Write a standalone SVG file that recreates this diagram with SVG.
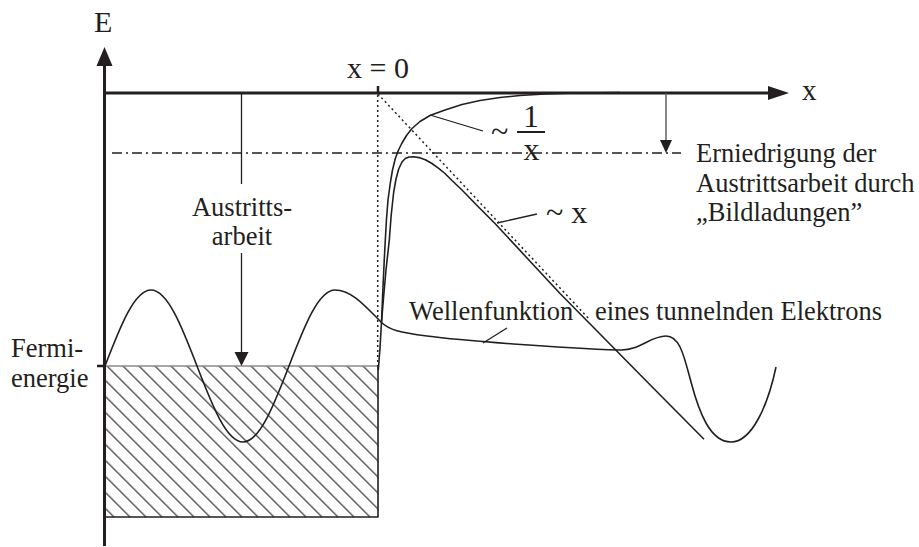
<svg xmlns="http://www.w3.org/2000/svg" width="919" height="547" viewBox="0 0 919 547">
  <defs>
    <pattern id="hatch" patternUnits="userSpaceOnUse" width="11.314" height="11.314" patternTransform="rotate(-45)">
      <line x1="9.19" y1="-1" x2="9.19" y2="12.5" stroke="#231f20" stroke-width="1.1"/>
    </pattern>
  </defs>
  <style>
    .t { font-family: "Liberation Serif", "Times New Roman", serif; fill: #231f20; }
    .lbl { font-size: 26.5px; }
    .math { font-size: 32px; }
    .axis { stroke: #231f20; stroke-width: 3; fill: none; }
    .thin { stroke: #231f20; stroke-width: 1.3; fill: none; }
    .curve { stroke: #231f20; stroke-width: 1.6; fill: none; stroke-linejoin: round; }
    .dot { stroke: #231f20; stroke-width: 1.5; fill: none; stroke-dasharray: 2 3; }
    .dashdot { stroke: #231f20; stroke-width: 1.3; fill: none; stroke-dasharray: 10 4 2 4; }
    .head { fill: #231f20; }
  </style>
  <rect x="0" y="0" width="919" height="547" fill="#ffffff"/>

  <g id="fermi-sea">
    <rect x="104" y="366" width="274" height="151" fill="url(#hatch)"/>
    <line x1="104" y1="366" x2="378" y2="366" stroke="#8a8a8a" stroke-width="1.5"/>
    <polyline points="378,366 378,517 104,517" class="curve"/>
  </g>

  <g id="axes">
    <line x1="104.5" y1="546" x2="104.5" y2="64" class="axis"/>
    <polygon points="104.5,47 96.5,66 112.5,66" class="head"/>
    <line x1="103" y1="93" x2="772" y2="93" class="axis"/>
    <polygon points="789,93 768,86 768,100" class="head"/>
    <line x1="378" y1="86" x2="378" y2="93" stroke="#231f20" stroke-width="2.5"/>
    <line x1="97" y1="366" x2="104" y2="366" stroke="#231f20" stroke-width="2.5"/>
    <text class="t" x="94" y="32" font-size="30">E</text>
    <text class="t" x="378" y="78" font-size="30" text-anchor="middle">x = 0</text>
    <text class="t" x="802" y="100" font-size="29">x</text>
  </g>

  <g id="guides">
    <line x1="377.7" y1="95" x2="377.7" y2="366" class="dot"/>
    <line x1="378" y1="94" x2="590" y2="320" class="dot"/>
    <line x1="112" y1="153" x2="681" y2="153" class="dashdot"/>
  </g>

  <g id="potential-curves">
    <path class="curve" d="M378.3,370 L380,348 L381.5,322 L383,287 L384.3,259 L385.3,240 L386.5,219 L388,200 L390.3,183 L392.5,170 L395.3,158.5 L398.5,150 L402,143 L406.5,135.5 L412,128.5 L420,121.5 L430,115.5 L445,110 L462,104.5 L480,100.5 L500,97.5 L520,95.5 L545,94 L575,93 L620,92.5"/>
    <path class="curve" d="M381.5,322 L383.5,298 L386,270 L389.3,240 L391.2,215 L393.7,192 L396,179 L398.7,169 L402,162 L405.3,158.5 L409,157 L413.7,156.7 L419,157.6 L425.3,159.8 L432,163.5 L438.7,168.3 L445,173.5 L452,180.5 L462,190 L478,206.5 L495,223.5 L527,258 L560,293.5 L600,334 L650,384.7 L704,439.3"/>
  </g>

  <g id="wavefunction">
    <path class="curve" d="M105,366 C120,327.1 134.35,290 151,290 C167.65,290 182,327.1 197,366 C212,404.9 226.35,442 243,442 C259.65,442 274,404.9 289,366 C304,327.1 318.35,290 335,290 C352,290 366,307 381,322 C389,330 400,332.5 427,336 C460,340.5 560,348 620,350 C640,350.7 650,336 666,336 C680,336 684,356 691,382 C699,412 710,442 731,442 C752,442 768,405 776,367"/>
  </g>

  <g id="connectors">
    <line x1="241.5" y1="93" x2="241.5" y2="184" class="thin"/>
    <line x1="241.5" y1="253" x2="241.5" y2="354" class="thin"/>
    <polygon points="241.5,366 234.5,352 248.5,352" class="head"/>
    <line x1="666" y1="93" x2="666" y2="141" stroke="#555" stroke-width="1.4"/>
    <polygon points="666,153 660,140 672,140" class="head"/>
    <line x1="430" y1="115" x2="483" y2="131" class="thin"/>
    <line x1="497" y1="223" x2="537" y2="214" class="thin"/>
    <line x1="483" y1="343" x2="507" y2="328" class="thin"/>
  </g>

  <g id="label-austritt">
    <text class="t lbl" x="242" y="216" text-anchor="middle">Austritts-</text>
    <text class="t lbl" x="242" y="245" text-anchor="middle">arbeit</text>
  </g>

  <g id="label-fermi">
    <text class="t lbl" x="11" y="357">Fermi-</text>
    <text class="t lbl" x="11" y="387">energie</text>
  </g>

  <g id="label-erniedrigung">
    <text class="t lbl" x="696" y="162">Erniedrigung der</text>
    <text class="t lbl" x="696" y="192">Austrittsarbeit durch</text>
    <text class="t lbl" x="696" y="221">„Bildladungen”</text>
  </g>

  <g id="label-inv-x">
    <text class="t math" x="491" y="142">~</text>
    <text class="t math" x="531" y="127" text-anchor="middle">1</text>
    <line x1="517" y1="132" x2="545" y2="132" stroke="#231f20" stroke-width="2"/>
    <text class="t math" x="531.5" y="160" text-anchor="middle">x</text>
  </g>

  <g id="label-lin-x">
    <text class="t math" x="546" y="223">~ x</text>
  </g>

  <g id="label-wave">
    <text class="t lbl" x="409" y="320">Wellenfunktion</text>
    <text class="t lbl" x="595" y="320">eines tunnelnden Elektrons</text>
  </g>
</svg>
